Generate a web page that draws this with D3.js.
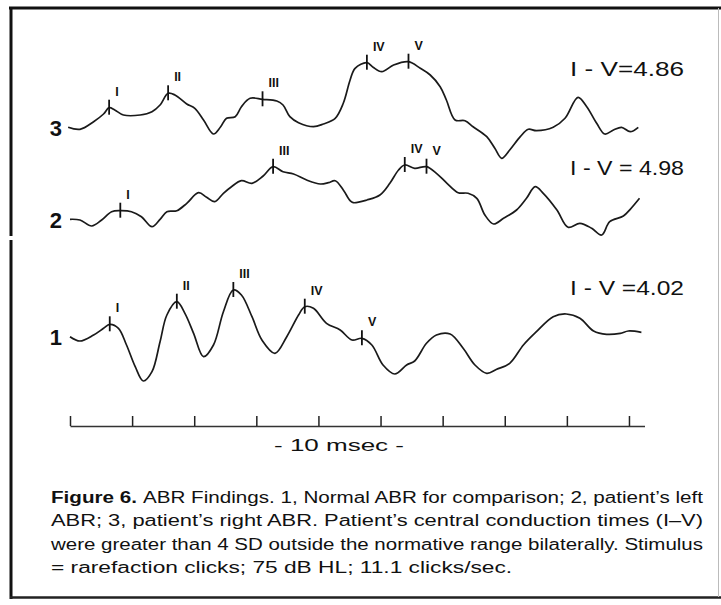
<!DOCTYPE html>
<html><head><meta charset="utf-8">
<script src="https://cdn.jsdelivr.net/npm/d3@7"></script>
<style>
html,body{margin:0;padding:0;background:#fff;}
svg{display:block;}
text{font-family:"Liberation Sans",Arial,Helvetica,sans-serif;fill:#111;}
</style></head>
<body>
<script>
// ---------- data (time in ms, amplitude in arbitrary units, positive up) ----------
const traceNames = ["1", "2", "3"];
const traceOffsets = [0, 11.7, 20.9];           // vertical stacking offsets (amplitude units)
const ivLabels = ["I - V =4.02", "I - V = 4.98", "I - V=4.86"];

const trace1 = [[0,0.03],[0.16,-0.4],[0.38,0.2],[0.54,0.87],[0.64,1.27],[0.78,0.87],[0.91,-0.8],[1.05,-2.97],[1.18,-4.4],[1.32,-3.47],[1.45,-0.47],[1.56,2.2],[1.72,3.53],[1.85,2.37],[1.99,0.37],[2.15,-1.97],[2.31,-0.8],[2.47,2.53],[2.63,4.7],[2.76,4.2],[2.93,2.03],[3.09,-0.3],[3.30,-1.63],[3.49,0.03],[3.68,2.2],[3.78,3.03],[3.92,2.87],[4.13,1.37],[4.35,0.7],[4.54,-0.3],[4.70,-0.13],[4.86,-0.8],[5.04,-2.8],[5.23,-3.7],[5.42,-2.8],[5.55,-2.4],[5.74,-0.63],[5.90,0.2],[6.12,0.3],[6.33,-1.13],[6.52,-2.8],[6.71,-3.63],[6.87,-3.23],[7.08,-2.63],[7.30,-0.8],[7.51,0.53],[7.78,2.03],[7.99,2.3],[8.21,1.87],[8.43,0.6],[8.64,0.27],[8.86,0.37],[8.99,0.6],[9.20,0.47]];
const trace2 = [[0,0.07],[0.16,0],[0.35,-0.6],[0.51,0],[0.67,0.83],[0.81,0.93],[0.99,0.83],[1.15,0.33],[1.32,-0.67],[1.45,0.07],[1.56,0.83],[1.72,0.93],[1.88,1.67],[2.07,2.73],[2.20,2.27],[2.33,1.83],[2.47,2.67],[2.60,3.33],[2.76,3.93],[2.93,3.67],[3.11,4.4],[3.27,5.33],[3.43,4.83],[3.60,4.6],[3.81,4.0],[4.03,3.6],[4.16,3.73],[4.27,3.93],[4.40,3.0],[4.51,1.93],[4.56,1.73],[4.78,2.0],[4.99,2.5],[5.15,3.67],[5.29,5.0],[5.39,5.5],[5.55,5.17],[5.74,5.33],[5.90,4.67],[6.07,3.67],[6.25,2.73],[6.41,2.67],[6.55,2.17],[6.68,0.5],[6.82,-0.4],[6.98,0.17],[7.19,1.0],[7.35,2.17],[7.49,3.33],[7.62,2.67],[7.84,1.0],[8.02,-0.73],[8.21,-0.33],[8.40,-0.83],[8.56,-1.5],[8.69,-0.17],[8.91,0.4],[9.02,1.07],[9.17,2.17]];
const trace3 = [[-0.03,0.07],[0.16,-0.13],[0.38,0.63],[0.54,1.4],[0.63,2.03],[0.72,1.8],[0.86,1.3],[1.13,1.3],[1.32,1.63],[1.45,2.3],[1.58,3.47],[1.69,3.3],[1.88,2.4],[2.01,1.97],[2.15,0.8],[2.31,-0.6],[2.42,0.07],[2.52,0.97],[2.66,1.13],[2.76,2.13],[2.90,2.97],[3.10,2.87],[3.33,2.7],[3.43,2.3],[3.54,1.13],[3.68,0.53],[3.92,0.13],[4.08,0.4],[4.27,0.97],[4.40,2.47],[4.51,4.8],[4.59,5.97],[4.78,6.53],[4.88,6.07],[5.02,5.63],[5.21,6.3],[5.45,6.63],[5.64,5.97],[5.80,5.3],[5.96,4.13],[6.06,2.8],[6.20,0.8],[6.36,0.73],[6.49,0.13],[6.71,-0.87],[6.84,-2.03],[6.95,-3.03],[7.08,-2.2],[7.25,-0.87],[7.38,-0.13],[7.51,-0.27],[7.78,0.07],[7.97,0.97],[8.18,3.07],[8.32,2.13],[8.48,0.47],[8.61,-0.6],[8.75,-0.2],[8.88,0.07],[9.02,-0.37],[9.15,0.07]];
const traces = [trace1, trace2, trace3];

const peakNames1 = ["I","II","III","IV","V"], peakTimes1 = [0.64, 1.72, 2.63, 3.78, 4.70];
const peakNames2 = ["I","III","IV","V"],      peakTimes2 = [0.81, 3.27, 5.39, 5.74];
const peakNames3 = ["I","II","III","IV","V"], peakTimes3 = [0.63, 1.58, 3.10, 4.78, 5.45];
const peakNames = [peakNames1, peakNames2, peakNames3];
const peakTimes = [peakTimes1, peakTimes2, peakTimes3];

const timeTicks = [0,1,2,3,4,5,6,7,8,9];
const axisLabel = "- 10 msec -";
const captionBold = "Figure 6.";
const captionLines = [
  "ABR Findings. 1, Normal ABR for comparison; 2, patient’s left",
  "ABR; 3, patient’s right ABR. Patient’s central conduction times (I–V)",
  "were greater than 4 SD outside the normative range bilaterally. Stimulus",
  "= rarefaction clicks; 75 dB HL; 11.1 clicks/sec."
];

// ---------- drawing ----------
const W = 721, H = 605;
const svg = d3.select("body").append("svg").attr("width", W).attr("height", H);
svg.append("rect").attr("width", W).attr("height", H).attr("fill", "#fff");

// frame
const frame = svg.append("g");
frame.append("line").attr("x1",9).attr("x2",721).attr("y1",8).attr("y2",8).attr("stroke","#111").attr("stroke-width",3);
frame.append("line").attr("x1",11).attr("x2",11).attr("y1",7).attr("y2",236).attr("stroke","#111").attr("stroke-width",3);
frame.append("line").attr("x1",11).attr("x2",11).attr("y1",240).attr("y2",599).attr("stroke","#111").attr("stroke-width",3);
frame.append("line").attr("x1",10).attr("x2",721).attr("y1",597.5).attr("y2",597.5).attr("stroke","#222").attr("stroke-width",2.5);
frame.append("line").attr("x1",718.5).attr("x2",718.5).attr("y1",8).attr("y2",597).attr("stroke","#bbb").attr("stroke-width",1);

const x = d3.scaleLinear().domain([0, 9.25]).range([70, 644.5]);
const y = d3.scaleLinear().domain([0, 10]).range([337, 237]);

const line = d3.line().x(d => x(d[0])).y(d => y(d[1])).curve(d3.curveCatmullRom.alpha(0.5));

function ampAt(tr, t) {
  for (let i = 0; i < tr.length - 1; i++) {
    if (t >= tr[i][0] && t <= tr[i+1][0]) {
      const f = (t - tr[i][0]) / (tr[i+1][0] - tr[i][0]);
      return tr[i][1] + f * (tr[i+1][1] - tr[i][1]);
    }
  }
  return 0;
}

traces.forEach((tr, k) => {
  const off = traceOffsets[k];
  const shifted = tr.map(d => [d[0], d[1] + off]);
  const g = svg.append("g");
  g.append("path").attr("d", line(shifted)).attr("fill","none")
    .attr("stroke","#1a1a1a").attr("stroke-width",1.7).attr("stroke-linejoin","round");
  // trace number
  g.append("text").attr("x", 62).attr("y", y(off)).attr("dy","0.36em")
    .attr("text-anchor","end").attr("font-size",22).attr("font-weight","bold").text(traceNames[k]);
  // peak markers
  peakTimes[k].forEach((t, j) => {
    const px = x(t), py = y(ampAt(tr, t) + off);
    g.append("line").attr("x1",px).attr("x2",px).attr("y1",py-8).attr("y2",py+7)
      .attr("stroke","#111").attr("stroke-width",1.8);
    g.append("text").attr("x", px + 6).attr("y", py - 12)
      .attr("font-size", 12.5).attr("font-weight","bold").text(peakNames[k][j]);
  });
});

// I-V labels
const ivY = [287, 167, 68];
ivLabels.forEach((s, k) => {
  svg.append("text").attr("x", 570).attr("y", ivY[k]).attr("dy","0.36em")
    .attr("font-size", 21).attr("textLength", 114).attr("lengthAdjust","spacingAndGlyphs").text(s);
});

// time axis
const axis = d3.axisTop(x).tickValues(timeTicks).tickSize(10).tickSizeOuter(0).tickFormat("");
const ag = svg.append("g").attr("transform","translate(0,426)").call(axis);
ag.selectAll("path").attr("stroke","#333").attr("stroke-width",1.5);
ag.selectAll("line").attr("stroke","#222").attr("stroke-width",1.5);
svg.append("text").attr("x", 339).attr("y", 445).attr("dy","0.36em").attr("text-anchor","middle")
  .attr("font-size", 17).attr("textLength", 130).attr("lengthAdjust","spacingAndGlyphs").text(axisLabel);

// caption
const capX = 51, capW = 652, capY0 = 503, capDy = 23.3, capFS = 16, gap = 6;
const l1a = svg.append("text").attr("x", capX).attr("y", capY0).attr("font-size", capFS)
  .attr("font-weight","bold").text(captionBold);
const l1b = svg.append("text").attr("y", capY0).attr("font-size", capFS).text(captionLines[0]);
const wa = l1a.node().getComputedTextLength(), wb = l1b.node().getComputedTextLength();
const k1 = (capW - gap) / (wa + wb);
l1a.attr("textLength", wa * k1).attr("lengthAdjust","spacingAndGlyphs");
l1b.attr("x", capX + wa * k1 + gap).attr("textLength", capW - wa * k1 - gap).attr("lengthAdjust","spacingAndGlyphs");
captionLines.slice(1).forEach((s, i) => {
  const t = svg.append("text").attr("x", capX).attr("y", capY0 + capDy * (i + 1)).attr("font-size", capFS).text(s);
  const w = t.node().getComputedTextLength();
  t.attr("textLength", i < 2 ? capW : w * 1.42).attr("lengthAdjust","spacingAndGlyphs");
});
</script>
</body></html>
